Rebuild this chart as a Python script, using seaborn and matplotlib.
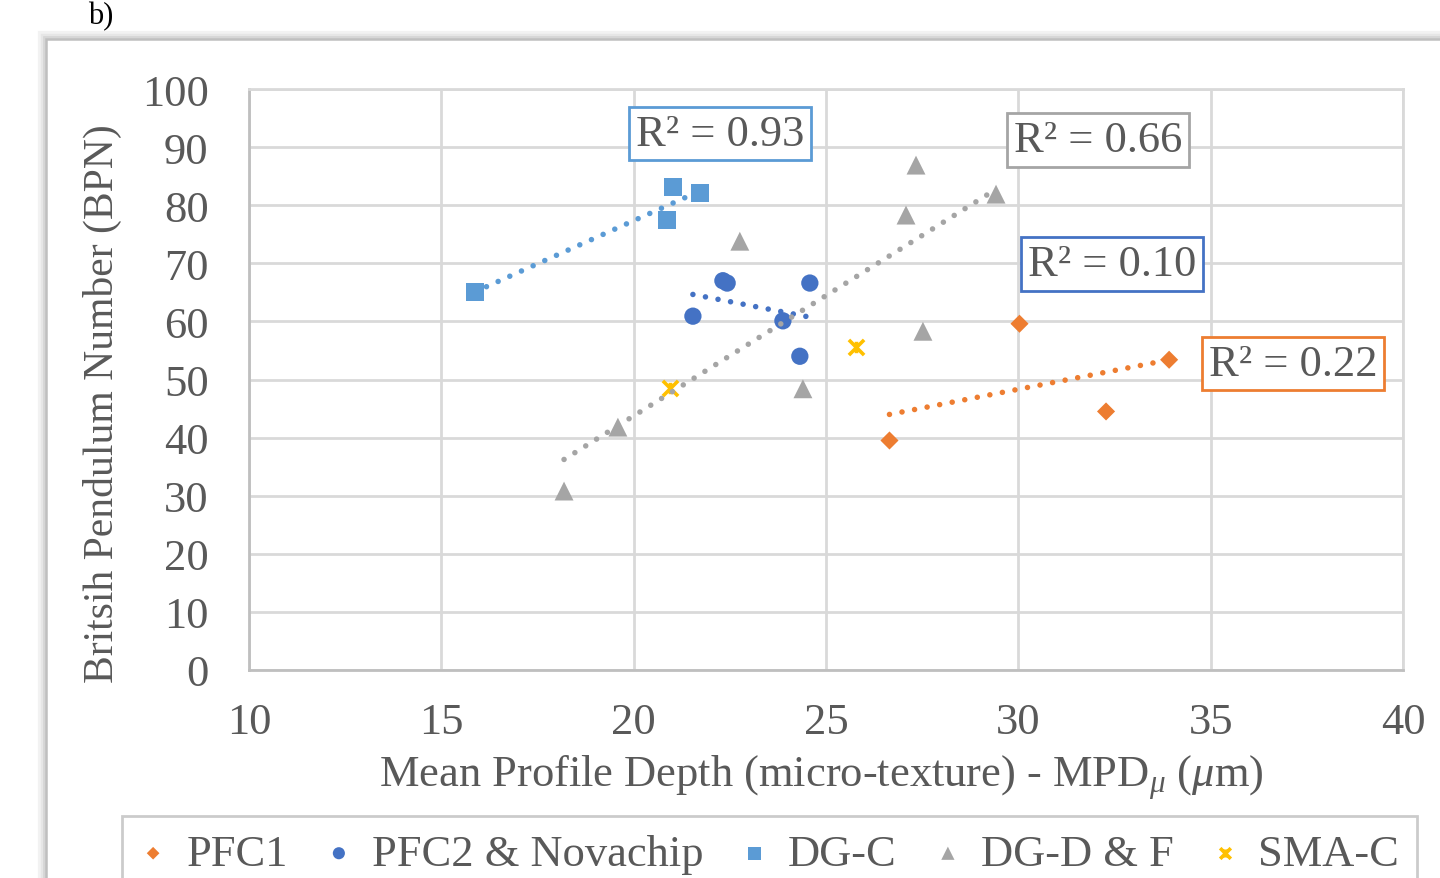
import matplotlib
matplotlib.use("Agg")
import matplotlib.pyplot as plt
import seaborn as sns
from matplotlib.patches import Rectangle
from matplotlib.path import Path

# ---------------- data ----------------
pfc1_x = [26.65, 30.03, 32.28, 33.92]
pfc1_y = [39.5, 59.6, 44.5, 53.4]

pfc2_x = [21.54, 22.32, 22.43, 23.88, 24.32, 24.58]
pfc2_y = [60.9, 67.0, 66.6, 60.1, 54.0, 66.6]

dgc_x = [15.87, 20.87, 21.02, 21.72]
dgc_y = [65.1, 77.5, 83.1, 82.1]

dgdf_x = [18.19, 19.59, 22.76, 24.40, 27.08, 27.34, 27.52, 29.42]
dgdf_y = [30.8, 41.8, 73.8, 48.4, 78.3, 86.9, 58.3, 81.9]

sma_x = [20.94, 25.78]
sma_y = [48.5, 55.6]

series_names = ["PFC1", "PFC2 & Novachip", "DG-C", "DG-D & F", "SMA-C"]
series_colors = ["#ED7D31", "#4472C4", "#5B9BD5", "#A5A5A5", "#FFC000"]

r2_labels = ["R\u00b2 = 0.22", "R\u00b2 = 0.10", "R\u00b2 = 0.93", "R\u00b2 = 0.66"]
r2_x = [37.14, 32.43, 22.24, 32.07]
r2_y = [52.7, 69.9, 92.3, 91.2]
r2_colors = ["#ED7D31", "#4472C4", "#5B9BD5", "#A5A5A5"]

x_ticks = [10, 15, 20, 25, 30, 35, 40]
y_ticks = [0, 10, 20, 30, 40, 50, 60, 70, 80, 90, 100]

x_title = r"Mean Profile Depth (micro-texture) - MPD$_{\mu}$ ($\mu$m)"
y_title = "Britsih Pendulum Number (BPN)"

# ---------------- style ----------------
sns.set_style("white")
plt.rcParams["font.family"] = ["Liberation Serif", "DejaVu Serif"]
plt.rcParams["mathtext.fontset"] = "custom"
plt.rcParams["mathtext.rm"] = "Liberation Serif"
plt.rcParams["mathtext.it"] = "Liberation Serif:italic"
plt.rcParams["mathtext.bf"] = "Liberation Serif:bold"

TXT = "#595959"
FS = 32
W, H = 1440, 879
fig = plt.figure(figsize=(W / 100, H / 100), dpi=100)
fig.patch.set_facecolor("white")

# outer chart frame with soft shadow
for off, col, lw in [(6, "#F2F2F2", 3), (4, "#E6E6E6", 2.5), (2, "#D6D6D6", 2)]:
    fig.add_artist(Rectangle(((46 - off) / W, -0.2), 1.3, (1 - (40 - off) / H) + 0.2,
                             transform=fig.transFigure, fill=False,
                             edgecolor=col, lw=lw, zorder=0))
fig.add_artist(Rectangle((46 / W, -0.2), 1.3, (1 - 40 / H) + 0.2,
                         transform=fig.transFigure, fill=False,
                         edgecolor="#BFBFBF", lw=1.8, zorder=1))

fig.text(88 / W, 1 - 2 / H, "b)", fontsize=22, color="black", va="top")

ax = fig.add_axes([249 / W, 1 - 671 / H, 1154 / W, 581 / H])
ax.set_facecolor("white")

star = Path([(-1, -1), (1, 1), (-1, 1), (1, -1), (0, -0.75), (0, 0.75)],
            [Path.MOVETO, Path.LINETO, Path.MOVETO, Path.LINETO, Path.MOVETO, Path.LINETO])

markers = ["D", "o", "s", "^", star]
sizes = [85, 155, 170, 185, 120]
xs = [pfc1_x, pfc2_x, dgc_x, dgdf_x, sma_x]
ys = [pfc1_y, pfc2_y, dgc_y, dgdf_y, sma_y]

for i, (x, y, name, col, m, s) in enumerate(zip(xs, ys, series_names, series_colors, markers, sizes)):
    if i == 4:
        ax.scatter(x, y, marker=m, s=s, color=col, linewidths=2.6, label=name, zorder=3)
    else:
        sns.scatterplot(x=x, y=y, ax=ax, marker=m, s=s, color=col, edgecolor="none",
                        linewidth=0, label=name, zorder=3)

# linear trendlines (dotted)
for x, y, col in zip(xs[:4], ys[:4], series_colors[:4]):
    sns.regplot(x=x, y=y, ax=ax, scatter=False, ci=None, truncate=True,
                line_kws=dict(color=col, lw=4, linestyle=(0, (0.001, 2.3)),
                              dash_capstyle="round", zorder=4))

for lab, tx, ty, col in zip(r2_labels, r2_x, r2_y, r2_colors):
    ax.text(tx, ty, lab, fontsize=FS, color=TXT, ha="center", va="center", zorder=5,
            bbox=dict(boxstyle="square,pad=0.15", facecolor="white", edgecolor=col, lw=2))

ax.set_xlim(10, 40)
ax.set_ylim(0, 100)
ax.set_xticks(x_ticks)
ax.set_yticks(y_ticks)
ax.set_xticklabels([str(v) for v in x_ticks])
ax.set_yticklabels([str(v) for v in y_ticks])
ax.grid(True, color="#D9D9D9", lw=2)
ax.set_axisbelow(True)
ax.tick_params(axis="both", length=0, labelsize=FS, labelcolor=TXT)
ax.tick_params(axis="y", pad=29)
ax.tick_params(axis="x", pad=23)
for side in ["left", "bottom"]:
    ax.spines[side].set_color("#BFBFBF")
    ax.spines[side].set_linewidth(2)
for side in ["top", "right"]:
    ax.spines[side].set_color("#D9D9D9")
    ax.spines[side].set_linewidth(2)

ax.set_xlabel(x_title, fontsize=FS, color=TXT)
ax.set_ylabel(y_title, fontsize=30, color=TXT)
ax.xaxis.set_label_coords(0.4957, -0.142)
ax.yaxis.set_label_coords(-0.110, 0.4604)

handles, labels = ax.get_legend_handles_labels()
if ax.get_legend():
    ax.get_legend().remove()
leg = fig.legend(handles, labels, loc="upper left",
                 bbox_to_anchor=(122 / W, 0.0, (1417 - 122) / W, 1 - 817 / H),
                 mode="expand", ncol=5, fontsize=FS, frameon=True, fancybox=False,
                 borderaxespad=0, borderpad=0.4, handlelength=0.6, handletextpad=0.45,
                 markerscale=0.7)
leg.get_frame().set_edgecolor("#BFBFBF")
leg.get_frame().set_linewidth(2)
for t in leg.get_texts():
    t.set_color(TXT)

fig.savefig("out.png", dpi=100, facecolor="white")
